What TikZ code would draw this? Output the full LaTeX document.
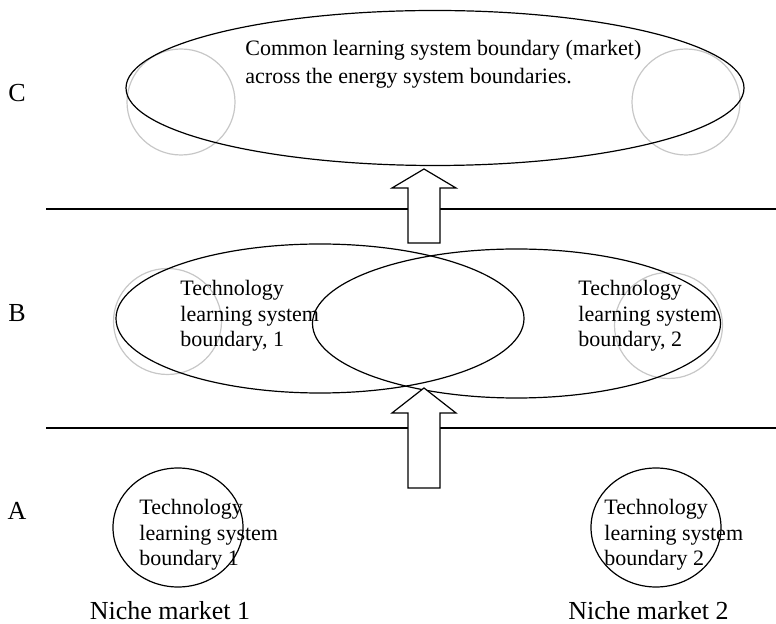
\documentclass[tikz,border=0pt]{standalone}
\usepackage{fontspec}
\setmainfont{Liberation Serif}
\usetikzlibrary{shapes.geometric}
\definecolor{ringcolor}{rgb}{0.78, 0.78, 0.78}
\tikzset{
	boundary/.style={
		ellipse,
		draw=black,
		line width=0.6pt,
		inner sep=0pt
	},
	wideboundary/.style={
		boundary,
		minimum width=204pt,
		minimum height=74.5pt
	},
	nicheboundary/.style={
		boundary,
		minimum width=65pt,
		minimum height=59.5pt
	},
	faintring/.style={
		ellipse,
		draw=ringcolor,
		line width=0.6pt,
		minimum width=54pt,
		minimum height=53pt,
		inner sep=0pt
	},
	levelname/.style={
		font=\fontsize{13}{15}\selectfont,
		inner sep=0pt,
		anchor=base
	},
	blurb/.style={
		align=left,
		inner sep=0pt,
		anchor=north west,
		font=\fontsize{11}{12.7}\selectfont
	},
	upshaft/.style={
		draw=black,
		line width=0.6pt,
		fill=white
	},
}

\begin{document}
\begin{tikzpicture}[x=0.5pt,y=-0.5pt]
	\useasboundingbox (0,0) rectangle (776,624);

	% faint rings behind the boundaries
	\node [faintring] (gc1) at (181,102) {};
	\node [faintring] (gc2) at (686,102) {};
	\node [faintring] (gb1) at (167.5,321.5) {};
	\node [faintring] (gb2) at (668.5,325.5) {};

	\node [boundary,minimum width=309pt,minimum height=77.5pt] (common) at (435,88) {};
	\node [wideboundary] (tech1) at (320,318.5) {};
	\node [wideboundary] (tech2) at (516.5,323.5) {};
	\node [nicheboundary] (niche1) at (178,527.5) {};
	\node [nicheboundary] (niche2) at (656,527.5) {};

	\node [blurb,font=\fontsize{11}{14}\selectfont] (commontext) at (245,40)
		{Common learning system boundary (market)\\across the energy system boundaries.};
	\node [blurb] (tech1text) at (180,280) {Technology\\learning system\\boundary, 1};
	\node [blurb] (tech2text) at (578,280) {Technology\\learning system\\boundary, 2};
	\node [blurb] (niche1text) at (139,499) {Technology\\learning system\\boundary 1};
	\node [blurb] (niche2text) at (604,499) {Technology\\learning system\\boundary 2};

	\node [levelname] (levC) at (17,102) {C};
	\node [levelname] (levB) at (17,322) {B};
	\node [levelname] (levA) at (17,520) {A};
	\node [levelname] (market1) at (170,619) {Niche market 1};
	\node [levelname] (market2) at (648.5,619) {Niche market 2};

	% level borders
	\draw [line width=0.6pt] (46,209) -- (776,209);
	\draw [line width=0.6pt] (46,428) -- (776,428);

	% block arrows
	\draw [upshaft] (408,243) -- (408,188) -- (392,188) -- (424,169)
		-- (456,188) -- (440,188) -- (440,243) -- cycle;
	\draw [upshaft] (408,488) -- (408,413) -- (392,413) -- (424,388)
		-- (456,413) -- (440,413) -- (440,488) -- cycle;
\end{tikzpicture}
\end{document}
